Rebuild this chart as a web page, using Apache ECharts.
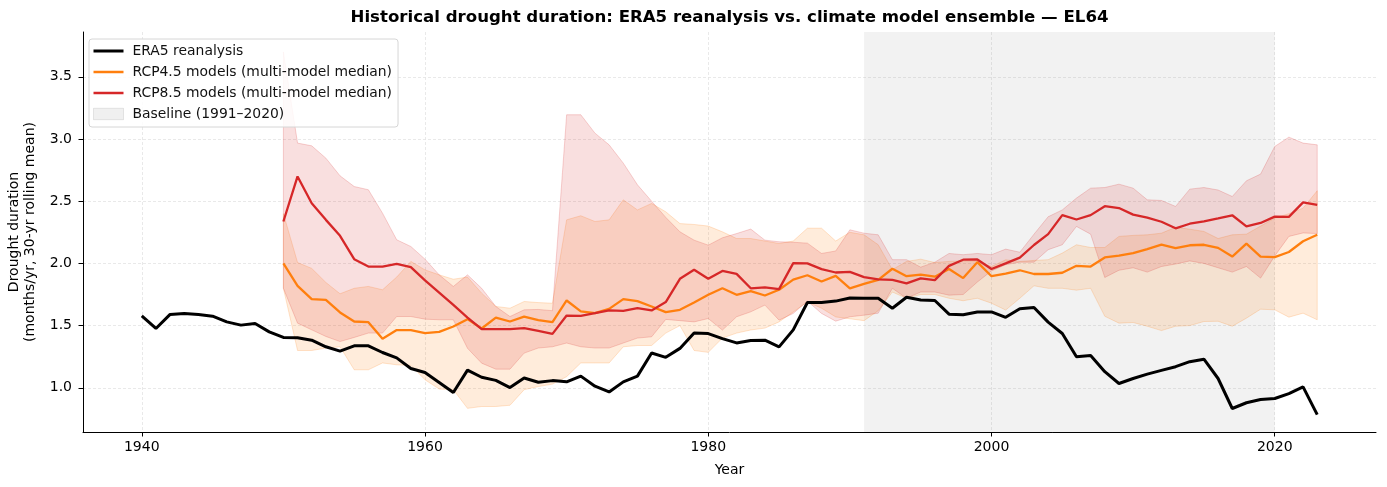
<!DOCTYPE html>
<html><head><meta charset="utf-8">
<script src="https://cdn.jsdelivr.net/npm/echarts@6/dist/echarts.min.js"></script>
<style>html,body{margin:0;padding:0;background:#fff}#c{width:1387px;height:487px}</style>
</head><body><div id="c"></div>
<script>
// ---------------- data ----------------
const era5Start = 1940;
const era5 = [1.579,1.477,1.590,1.598,1.590,1.576,1.530,1.504,1.517,1.450,
  1.405,1.402,1.383,1.330,1.295,1.338,1.338,1.284,1.241,1.155,
  1.123,1.043,0.962,1.142,1.085,1.060,1.002,1.079,1.045,1.058,
  1.048,1.094,1.013,0.967,1.048,1.094,1.280,1.245,1.317,1.441,
  1.436,1.395,1.361,1.380,1.383,1.329,1.466,1.686,1.686,1.697,
  1.722,1.720,1.720,1.640,1.728,1.706,1.702,1.592,1.587,1.609,
  1.610,1.567,1.636,1.646,1.528,1.437,1.250,1.260,1.130,1.035,
  1.075,1.110,1.140,1.170,1.210,1.230,1.075,0.834,0.880,0.906,
  0.914,0.954,1.008,0.785];

const modelStart = 1950;
const rcp45Median = [2.000,1.820,1.713,1.707,1.606,1.533,1.528,1.394,1.464,1.464,
  1.440,1.450,1.493,1.552,1.477,1.565,1.533,1.573,1.545,1.528,
  1.702,1.614,1.600,1.635,1.713,1.697,1.654,1.608,1.627,1.686,
  1.748,1.800,1.748,1.777,1.742,1.788,1.870,1.905,1.855,1.900,
  1.800,1.836,1.868,1.957,1.897,1.910,1.893,1.955,1.882,2.010,
  1.897,1.918,1.945,1.915,1.915,1.925,1.981,1.975,2.048,2.062,
  2.082,2.115,2.151,2.122,2.146,2.150,2.125,2.055,2.159,2.055,
  2.050,2.092,2.178,2.230];
const rcp45Low = [1.800,1.300,1.300,1.320,1.330,1.145,1.145,1.200,1.185,1.180,
  1.065,0.990,0.985,0.835,0.850,0.850,0.860,0.985,1.010,1.030,
  1.090,1.200,1.200,1.200,1.330,1.340,1.340,1.440,1.500,1.300,
  1.285,1.400,1.440,1.465,1.480,1.530,1.610,1.690,1.640,1.570,
  1.555,1.540,1.620,1.770,1.720,1.750,1.750,1.720,1.700,1.720,
  1.680,1.625,1.720,1.820,1.800,1.800,1.785,1.800,1.575,1.520,
  1.525,1.495,1.460,1.495,1.500,1.533,1.535,1.495,1.560,1.632,
  1.627,1.568,1.600,1.547];
const rcp45High = [2.400,2.007,1.960,1.847,1.756,1.800,1.815,1.788,1.890,2.016,
  1.948,1.908,1.873,1.890,1.761,1.654,1.640,1.694,1.685,1.680,
  2.350,2.383,2.337,2.350,2.511,2.430,2.482,2.415,2.320,2.313,
  2.300,2.254,2.200,2.200,2.180,2.160,2.180,2.283,2.283,2.180,
  2.250,2.230,2.150,1.950,2.016,2.034,2.007,2.016,2.020,2.016,
  1.975,2.029,2.016,2.024,2.030,2.083,2.150,2.128,2.128,2.217,
  2.225,2.230,2.243,2.290,2.275,2.257,2.200,2.230,2.235,2.300,
  2.364,2.400,2.444,2.584];

const rcp85Median = [2.337,2.699,2.484,2.350,2.222,2.034,1.975,1.975,1.997,1.970,
  1.863,1.766,1.667,1.565,1.472,1.472,1.472,1.480,1.458,1.434,
  1.581,1.579,1.600,1.622,1.619,1.640,1.622,1.689,1.876,1.949,
  1.876,1.940,1.916,1.800,1.807,1.793,2.002,2.000,1.954,1.927,
  1.932,1.890,1.872,1.868,1.840,1.880,1.866,1.980,2.030,2.032,
  1.955,2.000,2.047,2.148,2.235,2.388,2.353,2.388,2.460,2.445,
  2.392,2.368,2.335,2.282,2.319,2.338,2.362,2.387,2.298,2.325,
  2.376,2.374,2.491,2.471];
const rcp85Low = [1.800,1.520,1.466,1.413,1.372,1.405,1.440,1.440,1.573,1.573,
  1.552,1.547,1.547,1.318,1.198,1.150,1.150,1.279,1.320,1.330,
  1.360,1.330,1.320,1.320,1.360,1.400,1.410,1.550,1.540,1.530,
  1.557,1.464,1.571,1.611,1.665,1.544,1.598,1.697,1.598,1.536,
  1.571,1.584,1.600,1.800,1.720,1.770,1.770,1.745,1.750,1.850,
  1.940,1.990,2.010,2.010,2.110,2.150,2.297,2.235,1.887,1.945,
  1.965,1.930,1.975,1.995,2.020,2.000,1.965,1.930,1.975,1.882,
  2.060,2.217,2.245,2.240];
const rcp85High = [3.700,2.967,2.945,2.846,2.704,2.618,2.592,2.404,2.190,2.136,
  2.034,1.908,1.815,1.908,1.800,1.654,1.573,1.627,1.630,1.620,
  3.195,3.195,3.047,2.953,2.806,2.632,2.500,2.370,2.254,2.187,
  2.147,2.206,2.240,2.276,2.187,2.174,2.170,2.163,2.080,2.100,
  2.270,2.243,2.230,2.030,2.030,1.970,2.010,2.080,2.070,2.080,
  2.070,2.115,2.090,2.235,2.375,2.430,2.525,2.605,2.610,2.637,
  2.605,2.511,2.506,2.458,2.597,2.610,2.590,2.538,2.664,2.718,
  2.940,3.015,2.967,2.953];

const xTicks = [1940, 1960, 1980, 2000, 2020];
const yTicks = [1.0, 1.5, 2.0, 2.5, 3.0, 3.5];
const baselineRange = [1991, 2020];

const names = {
  era5: 'ERA5 reanalysis',
  r45: 'RCP4.5 models (multi-model median)',
  r85: 'RCP8.5 models (multi-model median)',
  base: 'Baseline (1991\u20132020)'
};

// ---------------- helpers ----------------
function pairs(start, arr) { return arr.map((v, i) => [start + i, v]); }
function bandSeries(id, lo, hi, fill, edge) {
  return {
    type: 'custom', name: id, silent: true, z: 2, clip: true,
    data: lo.map((v, i) => [modelStart + i, v, hi[i]]),
    encode: { x: 0, y: [1, 2] },
    renderItem: function (params, api) {
      if (params.dataIndex !== 0) return null;
      const top = [], bot = [];
      for (let i = 0; i < lo.length; i++) {
        top.push(api.coord([modelStart + i, hi[i]]));
        bot.push(api.coord([modelStart + i, lo[i]]));
      }
      const poly = top.concat(bot.slice().reverse());
      return { type: 'polygon', shape: { points: poly },
        style: { fill: fill, stroke: edge, lineWidth: 1 } };
    }
  };
}

const FONT = 'DejaVu Sans';
const chart = echarts.init(document.getElementById('c'), null, { renderer: 'canvas' });

const option = {
  animation: false,
  backgroundColor: '#fff',
  textStyle: { fontFamily: FONT },
  grid: { left: 83, right: 11, top: 32, bottom: 55, outerBoundsMode: 'none', containLabel: false },
  graphic: [{
    type: 'text', x: 729.5, y: 18,
    style: { text: 'Historical drought duration: ERA5 reanalysis vs. climate model ensemble \u2014 EL64',
      fontFamily: FONT, fontSize: 16.6, fontWeight: 'bold', fill: '#000', align: 'center', verticalAlign: 'middle' }
  }],
  legend: {
    left: 89, top: 39, orient: 'vertical',
    itemWidth: 30, itemHeight: 14, itemGap: 7,
    padding: [5, 6, 6, 4],
    backgroundColor: 'rgba(255,255,255,0.85)', borderColor: '#d6d6d6', borderWidth: 1, borderRadius: 3,
    textStyle: { fontSize: 13.9, color: '#111', fontFamily: FONT, padding: [0, 0, 0, 4] },
    data: [
      { name: names.era5, icon: 'path://M0,0L30,0L30,3L0,3Z', itemStyle: { color: '#000' } },
      { name: names.r45, icon: 'path://M0,0L30,0L30,2.5L0,2.5Z', itemStyle: { color: '#ff7f0e' } },
      { name: names.r85, icon: 'path://M0,0L30,0L30,2.5L0,2.5Z', itemStyle: { color: '#d62728' } },
      { name: names.base, icon: 'path://M0,0L29,0L29,11L0,11Z',
        itemStyle: { color: 'rgba(128,128,128,0.12)', borderColor: 'rgba(128,128,128,0.18)', borderWidth: 1 } }
    ]
  },
  xAxis: {
    type: 'value', min: 1935.85, max: 2027.15,
    name: 'Year', nameLocation: 'middle', nameGap: 31,
    nameTextStyle: { fontSize: 14, color: '#000', fontFamily: FONT },
    axisLine: { show: true, onZero: false, lineStyle: { color: '#000', width: 1 } },
    axisTick: { show: true, length: 4.5, customValues: xTicks, lineStyle: { color: '#000', width: 1 } },
    axisLabel: { customValues: xTicks, margin: 8, fontSize: 14, color: '#000', fontFamily: FONT,
      formatter: v => String(Math.round(v)) },
    splitLine: { show: true, lineStyle: { color: '#e3e3e3', type: [3, 2], width: 0.8 } }
  },
  yAxis: {
    type: 'value', min: 0.645, max: 3.86,
    name: 'Drought duration\n(months/yr, 30-yr rolling mean)', nameLocation: 'middle', nameGap: 42, nameRotate: 90,
    nameTextStyle: { fontSize: 14, color: '#000', fontFamily: FONT, lineHeight: 16 },
    axisLine: { show: true, onZero: false, lineStyle: { color: '#000', width: 1 } },
    axisTick: { show: true, length: 4.5, customValues: yTicks, lineStyle: { color: '#000', width: 1 } },
    axisLabel: { customValues: yTicks, margin: 11, fontSize: 14, color: '#000', fontFamily: FONT,
      formatter: v => Number(v).toFixed(1) },
    splitLine: { show: true, lineStyle: { color: '#e3e3e3', type: [3, 2], width: 0.8 } }
  },
  series: [
    { type: 'line', name: names.base, data: [], symbol: 'none', silent: true, z: 1,
      lineStyle: { width: 0 },
      markArea: { silent: true, itemStyle: { color: 'rgba(128,128,128,0.105)' },
        data: [[{ xAxis: baselineRange[0] }, { xAxis: baselineRange[1] }]] } },
    bandSeries('b45', rcp45Low, rcp45High, 'rgba(255,127,14,0.15)', 'rgba(255,127,14,0.2)'),
    bandSeries('b85', rcp85Low, rcp85High, 'rgba(214,39,40,0.15)', 'rgba(214,39,40,0.2)'),
    { type: 'line', name: names.r45, data: pairs(modelStart, rcp45Median), symbol: 'none', z: 3,
      lineStyle: { color: '#ff7f0e', width: 2.3 }, itemStyle: { color: '#ff7f0e' } },
    { type: 'line', name: names.r85, data: pairs(modelStart, rcp85Median), symbol: 'none', z: 3,
      lineStyle: { color: '#d62728', width: 2.3 }, itemStyle: { color: '#d62728' } },
    { type: 'line', name: names.era5, data: pairs(era5Start, era5), symbol: 'none', z: 4,
      lineStyle: { color: '#000', width: 3 }, itemStyle: { color: '#000' } }
  ]
};
chart.setOption(option);
</script></body></html>
